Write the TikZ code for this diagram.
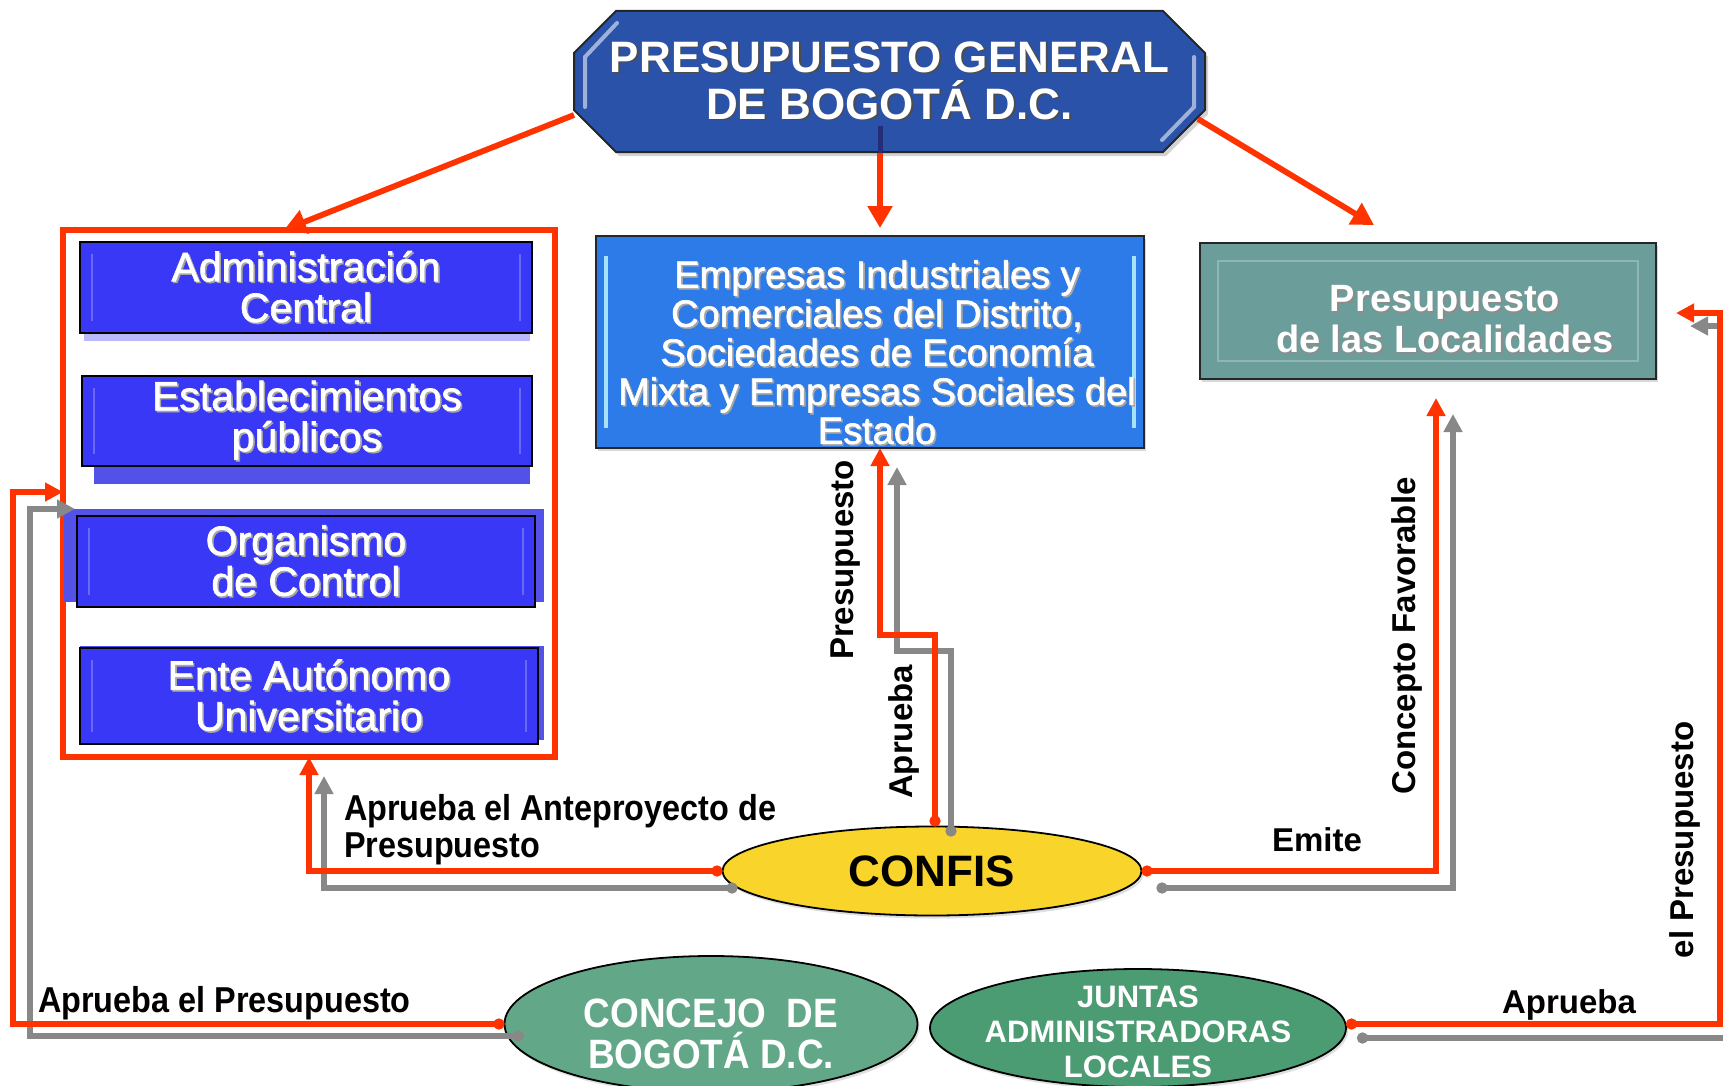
\documentclass[tikz,border=0pt]{standalone}
\usepackage{fontspec}
\setmainfont{Liberation Sans}
\newfontfamily\boxfont[FakeBold=1.6]{Liberation Sans}
\newfontfamily\narrowfont[FakeStretch=0.9]{Liberation Sans}
\usetikzlibrary{arrows.meta,shadows,shapes.geometric}

\definecolor{cred}{RGB}{255,51,0}
\definecolor{cgray}{RGB}{136,136,136}
\definecolor{ctitle}{RGB}{42,82,168}
\definecolor{cnavy}{RGB}{35,45,120}
\definecolor{cbox}{RGB}{56,56,246}
\definecolor{cboxlt}{RGB}{82,82,232}
\definecolor{cemp}{RGB}{44,123,232}
\definecolor{cloc}{RGB}{107,158,155}
\definecolor{cconfis}{RGB}{249,212,42}
\definecolor{cconcejo}{RGB}{98,168,136}
\definecolor{cjuntas}{RGB}{75,155,115}

\newcommand\shtxt[2][black!35]{\makebox[0pt][l]{\kern0.8pt\raisebox{-0.8pt}{\textcolor{#1}{#2}}}#2}

\begin{document}
\begin{tikzpicture}[x=0.5pt,y=-0.5pt,
  every node/.append style={outer sep=0pt},
  redc/.style={draw=cred, line width=2.6pt, {Circle[length=5.5pt]}-{Triangle[length=9pt,width=9pt]}},
  grayc/.style={draw=cgray, line width=2.6pt, {Circle[length=5.5pt]}-{Triangle[length=9pt,width=9pt]}},
  redtop/.style={draw=cred, line width=2.9pt, -{Triangle[length=11pt,width=12pt]}},
  titletext/.style={rectangle, minimum width=315.5pt, minimum height=71pt, inner sep=0pt, align=center, text=white, font=\bfseries\fontsize{22}{23.5}\selectfont},
  fbox/.style={rectangle, draw=black, line width=0.8pt, fill=cbox, text=white, inner sep=0pt, align=center,
    font=\boxfont\fontsize{20.5}{20.4}\selectfont,
    path picture={\draw[white, opacity=0.25, line width=1pt]
      ([xshift=6pt,yshift=-6pt]path picture bounding box.north west) -- ([xshift=6pt,yshift=6pt]path picture bounding box.south west);
      \draw[white, opacity=0.25, line width=1pt]
      ([xshift=-6pt,yshift=-6pt]path picture bounding box.north east) -- ([xshift=-6pt,yshift=6pt]path picture bounding box.south east);}},
  embox/.style={rectangle, draw=black!85, line width=1pt, fill=cemp, inner sep=0pt,
    drop shadow={opacity=.3, shadow xshift=1pt, shadow yshift=-1.5pt},
    path picture={\draw[cyan!35!white, line width=2pt]
      ([xshift=5pt,yshift=-10pt]path picture bounding box.north west) -- ([xshift=5pt,yshift=10pt]path picture bounding box.south west);
      \draw[cyan!35!white, line width=2pt]
      ([xshift=-5pt,yshift=-10pt]path picture bounding box.north east) -- ([xshift=-5pt,yshift=10pt]path picture bounding box.south east);}},
  locbox/.style={rectangle, draw=black!85, line width=1.2pt, fill=cloc, inner sep=0pt,
    drop shadow={opacity=.3, shadow xshift=1pt, shadow yshift=-1.5pt},
    path picture={\draw[cloc!75!white, line width=1.2pt]
      ([shift={(9pt,-9pt)}]path picture bounding box.north west) rectangle ([shift={(-9pt,9pt)}]path picture bounding box.south east);}},
  ellbox/.style={ellipse, draw=black, line width=0.9pt, inner sep=0pt,
    drop shadow={opacity=.25, shadow xshift=1pt, shadow yshift=-1.5pt}},
  whitetext/.style={text=white, align=center, inner sep=0pt},
  lab/.style={inner sep=0pt, text=black, font=\bfseries\fontsize{16.5}{18}\selectfont},
  nlab/.style={inner sep=0pt, text=black, align=left, font=\narrowfont\bfseries\fontsize{18}{18.5}\selectfont}
]
\useasboundingbox (0,0) rectangle (1723,1086);
\fill[white] (0,0) rectangle (1723,1086);
\clip (0,0) rectangle (1723,1086);

% ---------- title ----------
\filldraw[fill=ctitle, draw=black!85, line width=1pt, drop shadow={opacity=.35, shadow xshift=1.5pt, shadow yshift=-2pt}]
  (616,11) -- (1163,11) -- (1205,53) -- (1205,110) -- (1163,152) -- (616,152) -- (574,110) -- (574,53) -- cycle;
\draw[white!55!ctitle, line width=2pt, line cap=round] (617,23) -- (585,57) -- (585,107);
\draw[white!55!ctitle, line width=2pt, line cap=round] (1194,57) -- (1194,107) -- (1162,140);
\node[titletext] (title) at (889.5,81.5) {\shtxt[black!70]{PRESUPUESTO GENERAL}\\\shtxt[black!70]{DE BOGOTÁ D.C.}};
\draw[cnavy, line width=2.5pt] ([xshift=-4.75pt,yshift=-22.25pt]title.center) -- ([xshift=-4.75pt]title.south);

% ---------- left frame and boxes ----------
\node[draw=cred, line width=2.6pt, minimum width=246pt, minimum height=263.5pt, inner sep=0pt] (frame) at (309,493.5) {};

\fill[cbox!35!white] (84,333) rectangle (530,341);
\fill[cboxlt] (94,466) rectangle (530,484);
\fill[cboxlt] (64,509) rectangle (544,602);
\fill[cboxlt] (80,646) rectangle (544,740);

\node[fbox, minimum width=226pt, minimum height=45.5pt] (adm) at (306,287.5) {\shtxt{Administración}\\\shtxt{Central}};
\node[fbox, minimum width=225pt, minimum height=45pt] (est) at (307,421) {\shtxt{Establecimientos}\\\shtxt{públicos}};
\node[fbox, minimum width=229pt, minimum height=45.5pt] (org) at (306,561.5) {\shtxt{Organismo}\\\shtxt{de Control}};
\node[fbox, minimum width=229pt, minimum height=48pt] (ente) at (309,696) {\shtxt{Ente Autónomo}\\\shtxt{Universitario}};

% ---------- empresas ----------
\node[embox, minimum width=274pt, minimum height=106pt] (emp) at (870,342) {};
\node[whitetext, font=\boxfont\fontsize{19}{19.5}\selectfont] (empt) at (877,353)
  {\shtxt{Empresas Industriales y}\\\shtxt{Comerciales del Distrito,}\\\shtxt{Sociedades de Economía}\\\shtxt{Mixta y Empresas Sociales del}\\\shtxt{Estado}};

% ---------- localidades ----------
\node[locbox, minimum width=228pt, minimum height=68pt] (loc) at (1428,311) {};
\node[whitetext, font=\bfseries\fontsize{19}{20.5}\selectfont] (loct) at (1445,320)
  {\shtxt[black!45]{Presupuesto}\\\shtxt[black!45]{de las Localidades}};

% ---------- ellipses ----------
\node[ellbox, fill=cconfis, minimum width=209.5pt, minimum height=44.5pt, font=\bfseries\fontsize{22}{24}\selectfont] (confis) at (932,871) {CONFIS};
\node[ellbox, fill=cconcejo, minimum width=206.5pt, minimum height=68pt] (concejo) at (711,1024) {};
\node[whitetext, font=\narrowfont\bfseries\fontsize{20.5}{20.5}\selectfont] (concejot) at (711,1034) {CONCEJO\ \ DE\\BOGOTÁ D.C.};
\node[ellbox, fill=cjuntas, minimum width=208pt, minimum height=59pt] (juntas) at (1138,1028) {};
\node[whitetext, font=\bfseries\fontsize{15.5}{17.5}\selectfont] (juntast) at (1138,1032) {JUNTAS\\ADMINISTRADORAS\\LOCALES};

% ---------- connectors from title ----------
\draw[redtop] ([yshift=-16.75pt]title.west) -- ([xshift=110.5pt]frame.north west);
\draw[redtop] ([xshift=-4.75pt]title.south) -- ([xshift=5pt,yshift=4pt]emp.north);
\draw[redtop] ([xshift=154.25pt,yshift=-18.75pt]title.center) -- ([xshift=-27pt,yshift=9pt]loc.north);

% ---------- gray connectors ----------
\draw[grayc] ([xshift=7.5pt,yshift=-8.5pt]confis.west) -| ([xshift=130.5pt,yshift=-9.5pt]frame.south west);
\draw[grayc] ([xshift=9.5pt,yshift=-5pt]confis.north) -- ++(0,-185.5) -| ([xshift=13.5pt,yshift=-9.5pt]emp.south);
\draw[grayc] ([xshift=7.5pt,yshift=-8.5pt]confis.east) -| ([xshift=12.5pt,yshift=-17.5pt]loc.south);
\draw[grayc] ([xshift=9.75pt,yshift=-6pt]concejo.west) -- ++(-494,0) |- ([xshift=6pt,yshift=-7.75pt]frame.west);
\draw[grayc] ([xshift=5.5pt,yshift=-5pt]juntas.east) -- ++(380,0) |- ([xshift=17pt,yshift=-7.5pt]loc.east);

% ---------- red connectors ----------
\draw[redc] (confis.west) -| ([xshift=123pt]frame.south west);
\draw[redc] ([xshift=1.5pt]confis.north) -- ++(0,-191.5) -| ([xshift=5pt]emp.south);
\draw[redc] (confis.east) -| ([xshift=4pt,yshift=-9.5pt]loc.south);
\draw[redc] (concejo.west) -- ++(-491.5,0) |- ([yshift=0.75pt]frame.west);
\draw[redc] ([yshift=2pt]juntas.east) -- ++(374,0) |- ([xshift=10pt,yshift=-1pt]loc.east);

% ---------- labels ----------
\node[nlab, anchor=west] (lante) at (344,830) {Aprueba el Anteproyecto de\\Presupuesto};
\node[lab, rotate=90] (lpres) at (846,560) {Presupuesto};
\node[lab, rotate=90] (lapr) at (904,732) {Aprueba};
\node[lab] (lemite) at (1317,840) {Emite};
\node[lab, rotate=90] (lconc) at (1407,636) {Concepto Favorable};
\node[nlab, anchor=west] (laprpres) at (38,1003) {Aprueba el Presupuesto};
\node[lab] (lapr2) at (1569,1005) {Aprueba};
\node[lab, rotate=90] (lelpres) at (1685,840) {el Presupuesto};
\end{tikzpicture}
\end{document}
